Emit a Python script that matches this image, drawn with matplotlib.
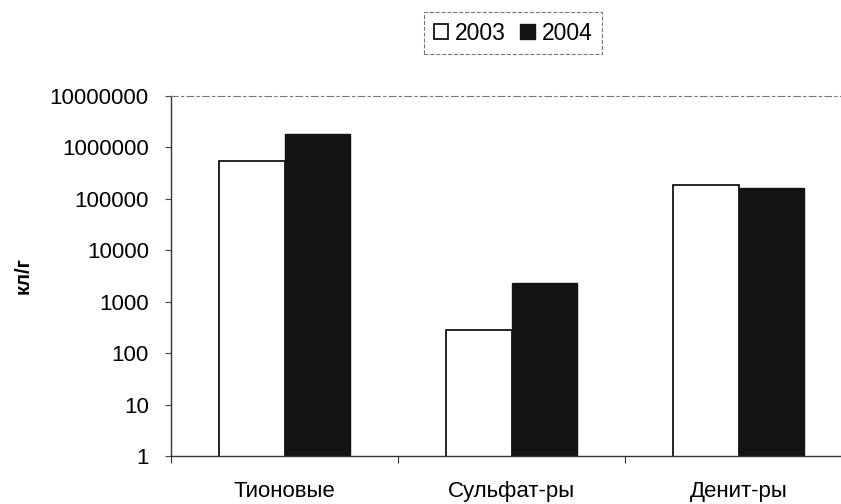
import numpy as np
import matplotlib
matplotlib.use("Agg")
import matplotlib.pyplot as plt
from matplotlib.ticker import FixedLocator, NullLocator

plt.rcParams["font.family"] = ["Liberation Sans", "DejaVu Sans"]

# ===================== данные =====================
categories = ["Тионовые", "Сульфат-ры", "Денит-ры"]
years = ["2003", "2004"]
values_2003 = [550000, 285, 190000]
values_2004 = [1800000, 2350, 165000]
y_ticks = [1, 10, 100, 1000, 10000, 100000, 1000000, 10000000]
y_tick_labels = [str(t) for t in y_ticks]

# ===================== рисунок =====================
fig = plt.figure(figsize=(8.41, 5.04), dpi=100)
ax = fig.add_axes([171 / 841, 48 / 504, 681 / 841, 360 / 504])

x = np.arange(len(categories))
w = 0.29
b1 = ax.bar(x - w / 2, values_2003, w, color="white", edgecolor="black",
            linewidth=1.2, label=years[0])
b2 = ax.bar(x + w / 2, values_2004, w, color="#141414", edgecolor="#141414",
            linewidth=1.0, label=years[1])

ax.set_yscale("log")
ax.set_ylim(1, 10000000)
ax.set_xlim(-0.5, len(categories) - 0.5)
ax.yaxis.set_major_locator(FixedLocator(y_ticks))
ax.yaxis.set_minor_locator(NullLocator())
ax.set_yticklabels(y_tick_labels, fontsize=16)

# деления по оси X — на границах категорий
ax.set_xticks(np.arange(len(categories) + 1) - 0.5)
ax.set_xticklabels([])
ax.set_xticks(x, minor=True)
ax.set_xticklabels(categories, minor=True, fontsize=16)
ax.tick_params(axis="x", which="minor", length=0, pad=18)
ax.tick_params(axis="x", which="major", length=5, direction="out", color="#333333")
ax.tick_params(axis="y", length=4, direction="out", color="#444444", pad=12)

ax.set_ylabel("кл/г", fontsize=14.5, fontweight="bold", labelpad=12)

for side in ["left", "bottom"]:
    ax.spines[side].set_color("#333333")
    ax.spines[side].set_linewidth(1.0)
ax.spines["top"].set_color("#777777")
ax.spines["top"].set_linestyle((0, (6, 3, 2, 3)))
ax.spines["top"].set_linewidth(0.8)
ax.spines["right"].set_visible(False)

leg = fig.legend(handles=[b1, b2], labels=years, loc="center",
                 bbox_to_anchor=(513 / 841, 1 - 33 / 504), ncol=2,
                 fontsize=16.5, frameon=True, fancybox=False,
                 handlelength=0.65, handleheight=0.65, handletextpad=0.3,
                 columnspacing=0.6, borderpad=0.4, borderaxespad=0)
leg.get_frame().set_edgecolor("#555555")
leg.get_frame().set_linestyle("--")
leg.get_frame().set_linewidth(0.8)

fig.savefig("out.png", dpi=100)
plt.close(fig)
